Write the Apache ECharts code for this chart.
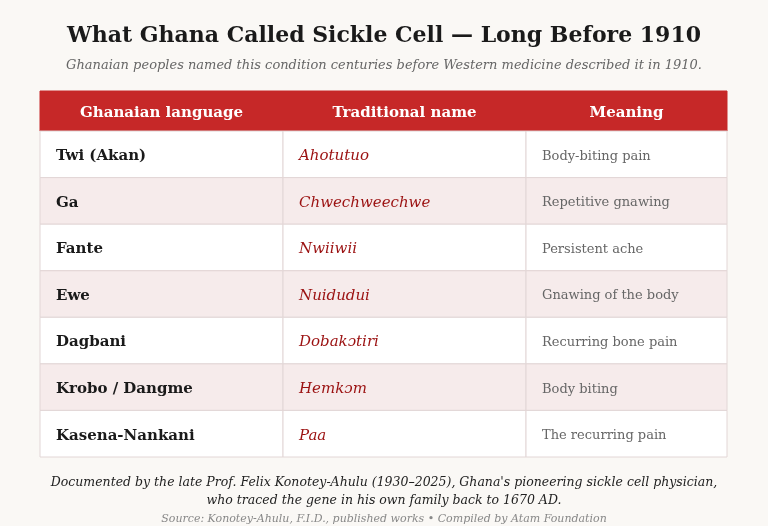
<!DOCTYPE html>
<html lang="en">
  <head>
    <meta charset="UTF-8" />
    <title>What Ghana Called Sickle Cell</title>
    <script src="https://cdnjs.cloudflare.com/ajax/libs/echarts/6.0.0/echarts.min.js"></script>
    <style>
      html, body { margin: 0; background: #faf8f5; }
    </style>
  </head>
  <body>
    <div id="main" style="width: 768px; height: 526px"></div>
    <script>
      var headers = ["Ghanaian language", "Traditional name", "Meaning"];
      var languages = ["Twi (Akan)", "Ga", "Fante", "Ewe", "Dagbani", "Krobo / Dangme", "Kasena-Nankani"];
      var names = ["Ahotutuo", "Chwechweechwe", "Nwiiwii", "Nuidudui", "Dobakɔtiri", "Hemkɔm", "Paa"];
      var meanings = ["Body-biting pain", "Repetitive gnawing", "Persistent ache", "Gnawing of the body",
        "Recurring bone pain", "Body biting", "The recurring pain"];

      var colEdges = [0, 243, 486, 687];
      var headH = 0.86; // header height in row units
      var font = "'DejaVu Serif', serif";

      var rows = [[-1]];
      languages.forEach(function (l, i) { rows.push([i]); });

      function note(text, top, size, color) {
        return {
          text: text, left: "center", top: top,
          textStyle: { fontFamily: font, fontSize: size, fontStyle: "italic", fontWeight: "normal", color: color }
        };
      }

      var myChart = echarts.init(document.getElementById("main"));
      var option = {
        backgroundColor: "#faf8f5",
        animation: false,
        title: [
          {
            text: "What Ghana Called Sickle Cell — Long Before 1910",
            left: "center", top: 20,
            textStyle: { fontFamily: font, fontSize: 22, fontWeight: "bold", color: "#1a1a1a" }
          },
          note("Ghanaian peoples named this condition centuries before Western medicine described it in 1910.", 54, 13, "#666"),
          note("Documented by the late Prof. Felix Konotey-Ahulu (1930–2025), Ghana's pioneering sickle cell physician,", 471, 12.5, "#222"),
          note("who traced the gene in his own family back to 1670 AD.", 489, 12.5, "#222"),
          note("Source: Konotey-Ahulu, F.I.D., published works • Compiled by Atam Foundation", 509, 11, "#888")
        ],
        grid: { left: 40, right: 41, top: 91, bottom: 69 },
        xAxis: { type: "value", min: 0, max: 687, show: false },
        yAxis: { type: "value", min: 0, max: headH + languages.length, inverse: true, show: false },
        series: [
          {
            type: "custom",
            data: rows,
            renderItem: function (params, api) {
              var r = api.value(0);
              var y0 = r < 0 ? 0 : headH + r;
              var y1 = r < 0 ? headH : headH + r + 1;
              var children = [];
              var texts = r < 0 ? headers : [languages[r], names[r], meanings[r]];
              for (var c = 0; c < 3; c++) {
                var p0 = api.coord([colEdges[c], y0]);
                var p1 = api.coord([colEdges[c + 1], y1]);
                var fill = r < 0 ? "#c62828" : (r % 2 === 1 ? "#f6ebeb" : "#ffffff");
                children.push({
                  type: "rect",
                  shape: { x: p0[0], y: p0[1], width: p1[0] - p0[0], height: p1[1] - p0[1] },
                  style: { fill: fill, stroke: r < 0 ? "#c62828" : "#e2d6d6", lineWidth: 1 }
                });
                var st;
                if (r < 0) {
                  st = { fill: "#fff", font: "bold 15px " + font, align: "center" };
                } else if (c === 0) {
                  st = { fill: "#1a1a1a", font: "bold 15px " + font, align: "left" };
                } else if (c === 1) {
                  st = { fill: "#9b1111", font: "italic 15px " + font, align: "left" };
                } else {
                  st = { fill: "#666", font: "13px " + font, align: "left" };
                }
                st.text = texts[c];
                st.verticalAlign = "middle";
                children.push({
                  type: "text",
                  x: r < 0 ? (p0[0] + p1[0]) / 2 : p0[0] + 16,
                  y: (p0[1] + p1[1]) / 2 + 2,
                  style: st
                });
              }
              return { type: "group", children: children };
            }
          }
        ]
      };
      myChart.setOption(option);
    </script>
  </body>
</html>
